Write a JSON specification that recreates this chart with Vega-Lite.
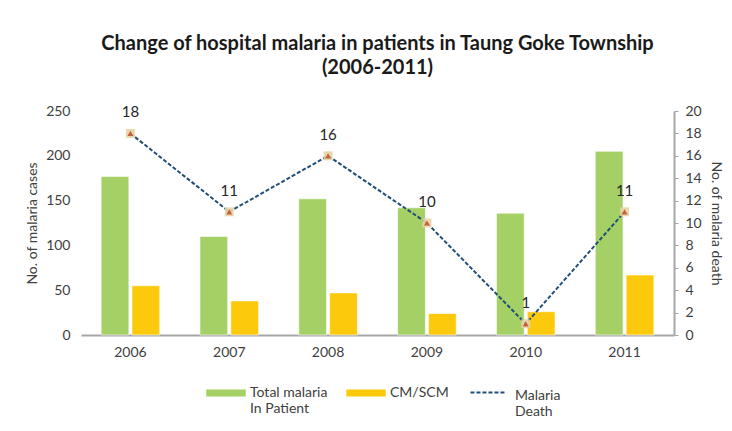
{
  "$schema": "https://vega.github.io/schema/vega-lite/v6.json",
  "autosize": "none",
  "width": 593,
  "height": 224,
  "padding": {"left": 81, "top": 111, "right": 58, "bottom": 96},
  "background": "white",
  "title": {
    "text": ["Change of hospital malaria in patients in Taung Goke Township", "(2006-2011)"],
    "font": "Lato",
    "fontSize": 20,
    "fontWeight": "bold",
    "color": "#1a1a1a",
    "anchor": "middle",
    "lineHeight": 24,
    "offset": 26
  },
  "config": {
    "view": {"stroke": null},
    "font": "Lato",
    "axis": {
      "labelFont": "Lato",
      "labelFontSize": 14,
      "labelColor": "#404040",
      "titleFont": "Lato",
      "titleFontSize": 14,
      "titleFontWeight": "normal",
      "titleColor": "#404040",
      "grid": false
    },
    "legend": {"labelFont": "Lato", "labelFontSize": 14, "labelColor": "#404040"}
  },
  "datasets": {
    "bars": [
      {"year": "2006", "series": "Total malaria In Patient", "cases": 177},
      {"year": "2006", "series": "CM/SCM", "cases": 55},
      {"year": "2007", "series": "Total malaria In Patient", "cases": 110},
      {"year": "2007", "series": "CM/SCM", "cases": 38},
      {"year": "2008", "series": "Total malaria In Patient", "cases": 152},
      {"year": "2008", "series": "CM/SCM", "cases": 47},
      {"year": "2009", "series": "Total malaria In Patient", "cases": 142},
      {"year": "2009", "series": "CM/SCM", "cases": 24},
      {"year": "2010", "series": "Total malaria In Patient", "cases": 136},
      {"year": "2010", "series": "CM/SCM", "cases": 26},
      {"year": "2011", "series": "Total malaria In Patient", "cases": 205},
      {"year": "2011", "series": "CM/SCM", "cases": 67}
    ],
    "deaths": [
      {"year": "2006", "deaths": 18, "line": "Malaria Death"},
      {"year": "2007", "deaths": 11, "line": "Malaria Death"},
      {"year": "2008", "deaths": 16, "line": "Malaria Death"},
      {"year": "2009", "deaths": 10, "line": "Malaria Death"},
      {"year": "2010", "deaths": 1, "line": "Malaria Death"},
      {"year": "2011", "deaths": 11, "line": "Malaria Death"}
    ]
  },
  "encoding": {
    "x": {
      "field": "year",
      "type": "nominal",
      "scale": {"paddingInner": 0.407, "paddingOuter": 0.2035},
      "axis": {
        "title": null,
        "labelAngle": 0,
        "ticks": false,
        "domainColor": "#a6a6a6",
        "domainWidth": 2,
        "labelPadding": 10
      }
    }
  },
  "layer": [
    {
      "data": {"name": "bars"},
      "mark": {"type": "bar", "stroke": "white", "strokeOpacity": 0.6, "strokeWidth": 1},
      "encoding": {
        "xOffset": {
          "field": "series",
          "type": "nominal",
          "sort": ["Total malaria In Patient", "CM/SCM"],
          "scale": {"paddingInner": 0.1}
        },
        "y": {
          "field": "cases",
          "type": "quantitative",
          "scale": {"domain": [0, 250]},
          "axis": {
            "title": "No. of malaria cases",
            "values": [0, 50, 100, 150, 200, 250],
            "domain": false,
            "ticks": false,
            "labelPadding": 11,
            "titlePadding": 6
          }
        },
        "color": {
          "field": "series",
          "type": "nominal",
          "sort": ["Total malaria In Patient", "CM/SCM"],
          "scale": {"domain": ["Total malaria In Patient", "CM/SCM"], "range": ["#a4d065", "#fcc90c"]},
          "legend": {
            "title": null,
            "orient": "none",
            "direction": "horizontal",
            "legendX": 125,
            "legendY": 262,
            "padding": 0,
            "symbolType": "M-1,-0.18H1V0.18H-1Z",
            "symbolSize": 1560,
            "symbolStrokeWidth": 0,
            "labelOffset": 4,
            "columnPadding": 18,
            "labelBaseline": "middle",
            "labelExpr": "datum.value == 'Total malaria In Patient' ? ['Total malaria', ' In Patient'] : [datum.label, ' ']",
            "encode": {"labels": {"update": {"dy": {"value": 3}}}}
          }
        }
      }
    },
    {
      "data": {"name": "deaths"},
      "mark": {"type": "line", "strokeDash": [4, 2], "strokeWidth": 2},
      "encoding": {
        "y": {
          "field": "deaths",
          "type": "quantitative",
          "scale": {"domain": [0, 20]},
          "axis": {
            "orient": "right",
            "title": "No. of malaria death",
            "values": [0, 2, 4, 6, 8, 10, 12, 14, 16, 18, 20],
            "domainColor": "#a6a6a6",
            "domainWidth": 2,
            "tickColor": "#a6a6a6",
            "tickSize": 4,
            "labelPadding": 7,
            "titlePadding": 7
          }
        },
        "stroke": {
          "field": "line",
          "type": "nominal",
          "scale": {"domain": ["Malaria Death"], "range": ["#1f4e79"]},
          "legend": {
            "title": null,
            "orient": "none",
            "legendX": 388,
            "legendY": 262,
            "padding": 0,
            "symbolType": "stroke",
            "symbolSize": 1300,
            "symbolStrokeWidth": 2,
            "symbolDash": [4, 2],
            "labelOffset": 7,
            "labelBaseline": "middle",
            "labelExpr": "['Malaria', 'Death']",
            "encode": {"labels": {"update": {"dy": {"value": 3}}}}
          }
        }
      }
    },
    {
      "data": {"name": "deaths"},
      "mark": {"type": "point", "shape": "square", "filled": true, "color": "#e6d3a6", "size": 80, "opacity": 0.9},
      "encoding": {
        "y": {"field": "deaths", "type": "quantitative", "scale": {"domain": [0, 20]}, "axis": null}
      }
    },
    {
      "data": {"name": "deaths"},
      "mark": {"type": "point", "shape": "triangle-up", "filled": true, "color": "#c4613a", "size": 36, "opacity": 1},
      "encoding": {
        "y": {"field": "deaths", "type": "quantitative", "scale": {"domain": [0, 20]}, "axis": null}
      }
    },
    {
      "data": {"name": "deaths"},
      "mark": {"type": "text", "dy": -21, "fontSize": 15, "color": "#262626", "font": "Lato"},
      "encoding": {
        "y": {"field": "deaths", "type": "quantitative", "scale": {"domain": [0, 20]}, "axis": null},
        "text": {"field": "deaths", "type": "quantitative"}
      }
    }
  ],
  "resolve": {"scale": {"y": "independent"}}
}
